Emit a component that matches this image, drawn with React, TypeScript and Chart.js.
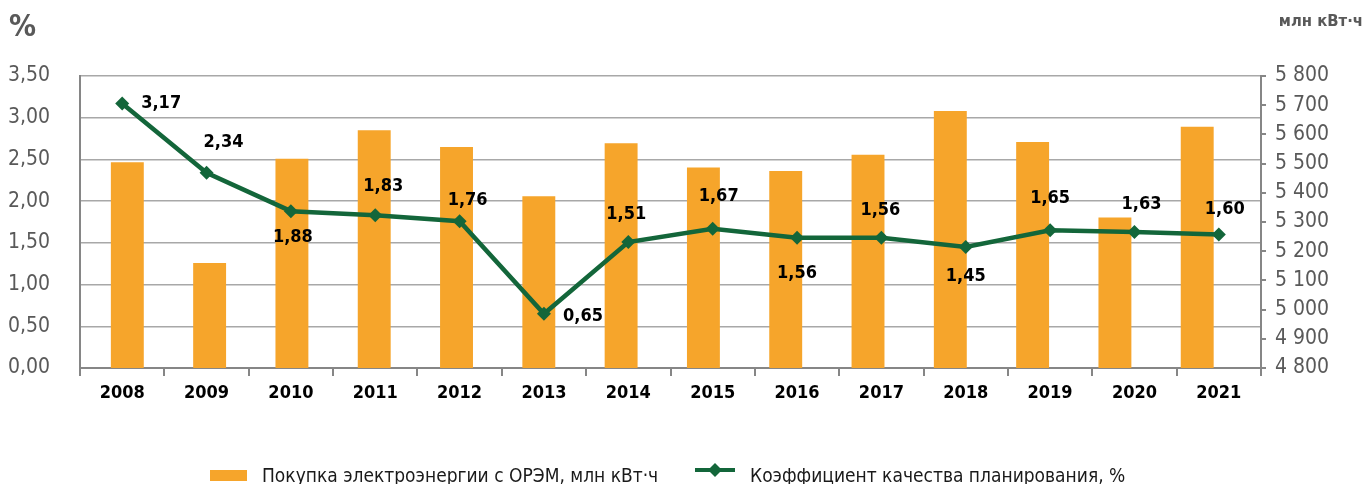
import React, { useEffect, useRef } from "react";
import { Chart, registerables } from "chart.js";

Chart.register(...registerables);

const years = ["2008","2009","2010","2011","2012","2013","2014","2015","2016","2017","2018","2019","2020","2021"];
const purchase = [5505, 5160, 5517, 5614, 5557, 5388, 5570, 5487, 5475, 5530, 5680, 5574, 5315, 5626];
const coefficient = [3.17, 2.34, 1.88, 1.83, 1.76, 0.65, 1.51, 1.67, 1.56, 1.56, 1.45, 1.65, 1.63, 1.60];
const purchaseLabel = "Покупка электроэнергии с ОРЭМ, млн кВт·ч";
const coefficientLabel = "Коэффициент качества планирования, %";
const leftTitle = "%";
const rightTitle = "млн кВт·ч";

const FONT = "'DejaVu Sans Condensed', 'DejaVu Sans', sans-serif";
const ORANGE = "#F6A52B";
const GREEN = "#13663A";
const AXIS = "#868686";
const GRID = "#A8A8A8";
const TICK_TEXT = "#595959";

// label offsets (px) relative to each line point
const labelOffsets: [number, number][] = [
  [39, 0], [17, -30], [2, 26], [8, -29], [8, -21], [39, 3], [-2, -28],
  [6, -32], [0, 35], [-1, -28], [0, 29], [0, -32], [7, -28], [6, -25],
];

const fmtPct = (v: number) => v.toFixed(2).replace(".", ",");
const fmtThousands = (v: number) => {
  const s = Math.round(v).toString();
  return s.replace(/\B(?=(\d{3})+(?!\d))/g, " ");
};

const overlayPlugin = {
  id: "overlay",
  afterDatasetsDraw(chart: any) {
    const ctx = chart.ctx;
    const meta = chart.getDatasetMeta(1);
    ctx.save();
    ctx.font = `bold 18px ${FONT}`;
    ctx.fillStyle = "#000";
    ctx.textAlign = "center";
    ctx.textBaseline = "middle";
    meta.data.forEach((pt: any, i: number) => {
      const [dx, dy] = labelOffsets[i] || [0, -25];
      ctx.fillText(fmtPct(coefficient[i]), pt.x + dx, pt.y + dy);
    });
    ctx.restore();
  },
  afterDraw(chart: any) {
    const ctx = chart.ctx;
    ctx.save();
    // axis titles
    ctx.fillStyle = TICK_TEXT;
    ctx.textBaseline = "middle";
    ctx.font = `bold 30px ${FONT}`;
    ctx.textAlign = "left";
    ctx.fillText(leftTitle, 9, 28);
    ctx.font = `bold 16.5px ${FONT}`;
    ctx.textAlign = "right";
    ctx.fillText(rightTitle, 1363, 22);

    // legend
    ctx.font = `19px ${FONT}`;
    ctx.textAlign = "left";
    ctx.textBaseline = "alphabetic";
    ctx.fillStyle = ORANGE;
    ctx.fillRect(210, 470, 37, 11);
    ctx.fillStyle = "#1a1a1a";
    ctx.fillText(purchaseLabel, 262, 481.5);

    ctx.strokeStyle = GREEN;
    ctx.lineWidth = 4;
    ctx.beginPath();
    ctx.moveTo(695, 470);
    ctx.lineTo(735, 470);
    ctx.stroke();
    ctx.fillStyle = GREEN;
    ctx.beginPath();
    ctx.moveTo(715, 463);
    ctx.lineTo(722, 470);
    ctx.lineTo(715, 477);
    ctx.lineTo(708, 470);
    ctx.closePath();
    ctx.fill();
    ctx.fillStyle = "#1a1a1a";
    ctx.fillText(coefficientLabel, 750, 481.5);
    ctx.restore();
  },
};

export default function App() {
  const canvasRef = useRef<HTMLCanvasElement | null>(null);

  useEffect(() => {
    if (!canvasRef.current) return;
    const chart = new Chart(canvasRef.current, {
      type: "bar",
      data: {
        labels: years,
        datasets: [
          {
            type: "bar",
            label: purchaseLabel,
            data: purchase.map((v, i) => ({ x: i, y: v })),
            backgroundColor: ORANGE,
            xAxisID: "x2",
            yAxisID: "y1",
            grouped: false,
            barPercentage: 0.4,
            categoryPercentage: 1,
            order: 2,
          },
          {
            type: "line",
            label: coefficientLabel,
            data: coefficient,
            borderColor: GREEN,
            backgroundColor: GREEN,
            borderWidth: 4.5,
            pointStyle: "rectRot",
            pointRadius: 7,
            pointBorderWidth: 0,
            pointBackgroundColor: GREEN,
            tension: 0,
            xAxisID: "x",
            yAxisID: "y",
            order: 1,
          },
        ],
      } as any,
      options: {
        responsive: true,
        maintainAspectRatio: false,
        animation: false,
        layout: { padding: { top: 76, left: 8, right: 39, bottom: 0 } },
        plugins: {
          legend: { display: false },
          tooltip: { enabled: false },
        },
        scales: {
          x: {
            type: "category",
            offset: true,
            grid: {
              offset: true,
              drawOnChartArea: false,
              drawTicks: true,
              tickLength: 8,
              color: AXIS,
              lineWidth: 2,
            },
            border: { color: AXIS, width: 2 },
            ticks: {
              color: "#000",
              font: { family: FONT, size: 18, weight: "bold" },
              padding: 7,
              maxRotation: 0,
            },
            afterFit: (s: any) => { s.height = 116; },
          },
          x2: {
            type: "linear",
            display: false,
            min: -0.575,
            max: 13.775,
            offset: false,
            afterBuildTicks: (s: any) => { s.ticks = years.map((_, i) => ({ value: i })); },
          },
          y: {
            position: "left",
            min: 0,
            max: 3.5,
            ticks: {
              stepSize: 0.5,
              color: TICK_TEXT,
              font: { family: FONT, size: 21 },
              crossAlign: "far",
              callback: (v: any) => fmtPct(Number(v)),
            },
            grid: { color: GRID, lineWidth: 1.5, drawTicks: false },
            border: { color: AXIS, width: 2 },
            afterFit: (s: any) => { s.width = 72; },
          },
          y1: {
            position: "right",
            min: 4800,
            max: 5800,
            ticks: {
              stepSize: 100,
              color: TICK_TEXT,
              font: { family: FONT, size: 21 },
              crossAlign: "far",
              callback: (v: any) => fmtThousands(Number(v)),
            },
            grid: {
              drawOnChartArea: false,
              drawTicks: true,
              tickLength: 5,
              color: AXIS,
              lineWidth: 2,
            },
            border: { color: AXIS, width: 2 },
            afterFit: (s: any) => { s.width = 68; },
          },
        },
      } as any,
      plugins: [overlayPlugin],
    });
    return () => chart.destroy();
  }, []);

  return (
    <div style={{ position: "fixed", left: 0, top: 0, width: 1368, height: 484, background: "#fff" }}>
      <canvas ref={canvasRef} />
    </div>
  );
}
